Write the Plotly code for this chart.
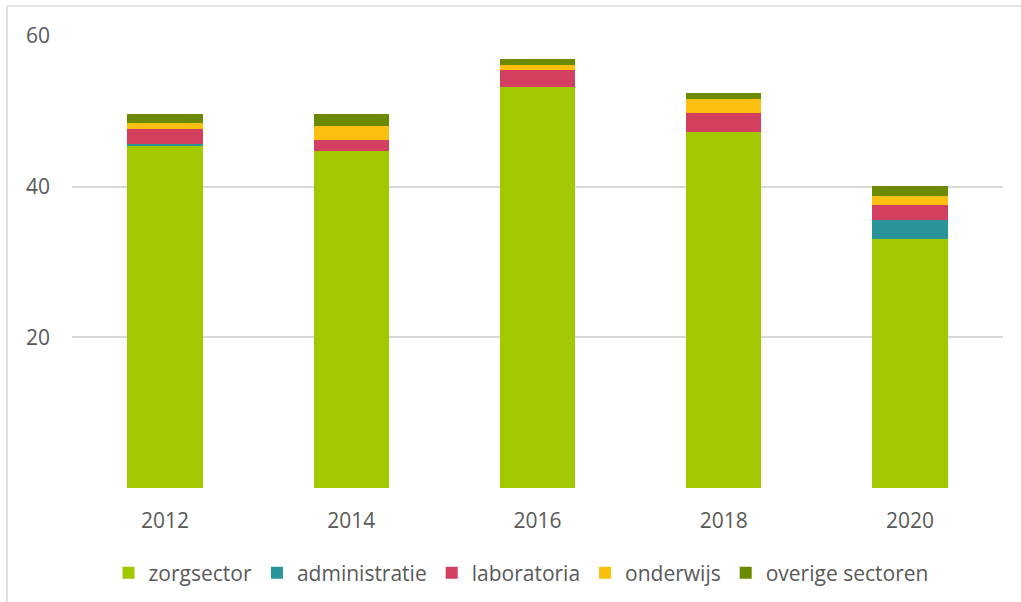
import plotly.graph_objects as go

years = ["2012", "2014", "2016", "2018", "2020"]
zorgsector = [45.5, 44.8, 53.2, 47.2, 33.1]
administratie = [0.15, 0.0, 0.0, 0.0, 2.5]
laboratoria = [2.05, 1.4, 2.3, 2.6, 2.0]
onderwijs = [0.7, 1.8, 0.6, 1.8, 1.2]
overige = [1.2, 1.7, 0.8, 0.9, 1.3]

series = [
    ("zorgsector", zorgsector, "#a2c900"),
    ("administratie", administratie, "#2a9598"),
    ("laboratoria", laboratoria, "#d53f5f"),
    ("onderwijs", onderwijs, "#fbbf0f"),
    ("overige sectoren", overige, "#6b8a00"),
]

fig = go.Figure()
for name, vals, col in series:
    fig.add_trace(go.Bar(x=years, y=vals, name=name, marker=dict(color=col, line=dict(width=0))))

W, H = 1021, 602
L, R, T, B = 72, 18, 36, 114
pw, ph = W - L - R, H - T - B

def px_x(p):
    return (p - L) / pw

def px_y(p):
    return (H - B - p) / ph

FS = 21
fig.update_layout(
    width=W, height=H,
    barmode="stack", bargap=0.595,
    margin=dict(l=L, r=R, t=T, b=B, pad=0, autoexpand=False),
    paper_bgcolor="white", plot_bgcolor="white",
    font=dict(family="Open Sans", size=FS, color="#595959"),
    showlegend=True,
    legend=dict(orientation="h", x=px_x(521), xanchor="center", y=px_y(573), yanchor="middle",
                font=dict(size=FS, color="#595959"), traceorder="normal", itemwidth=30),
    xaxis=dict(showline=False, ticks="", tickfont=dict(size=FS, color="#595959"),
               ticklabelstandoff=18, automargin=False),
    yaxis=dict(range=[0, 60], tickvals=[0, 20, 40, 60], ticktext=["", "20", "40", "60"],
               showgrid=True, gridcolor="#d9d9d9", gridwidth=1.5, zeroline=False,
               showline=False, ticks="", tickfont=dict(size=FS, color="#595959"),
               ticklabelstandoff=21, automargin=False),
    shapes=[
        dict(type="line", xref="paper", yref="paper", x0=px_x(7), x1=px_x(W), y0=px_y(6), y1=px_y(6),
             line=dict(color="#d9d9d9", width=1.5)),
        dict(type="line", xref="paper", yref="paper", x0=px_x(7), x1=px_x(7), y0=px_y(6), y1=px_y(H),
             line=dict(color="#d9d9d9", width=1.5)),
    ],
)

fig.write_html("out.html")
